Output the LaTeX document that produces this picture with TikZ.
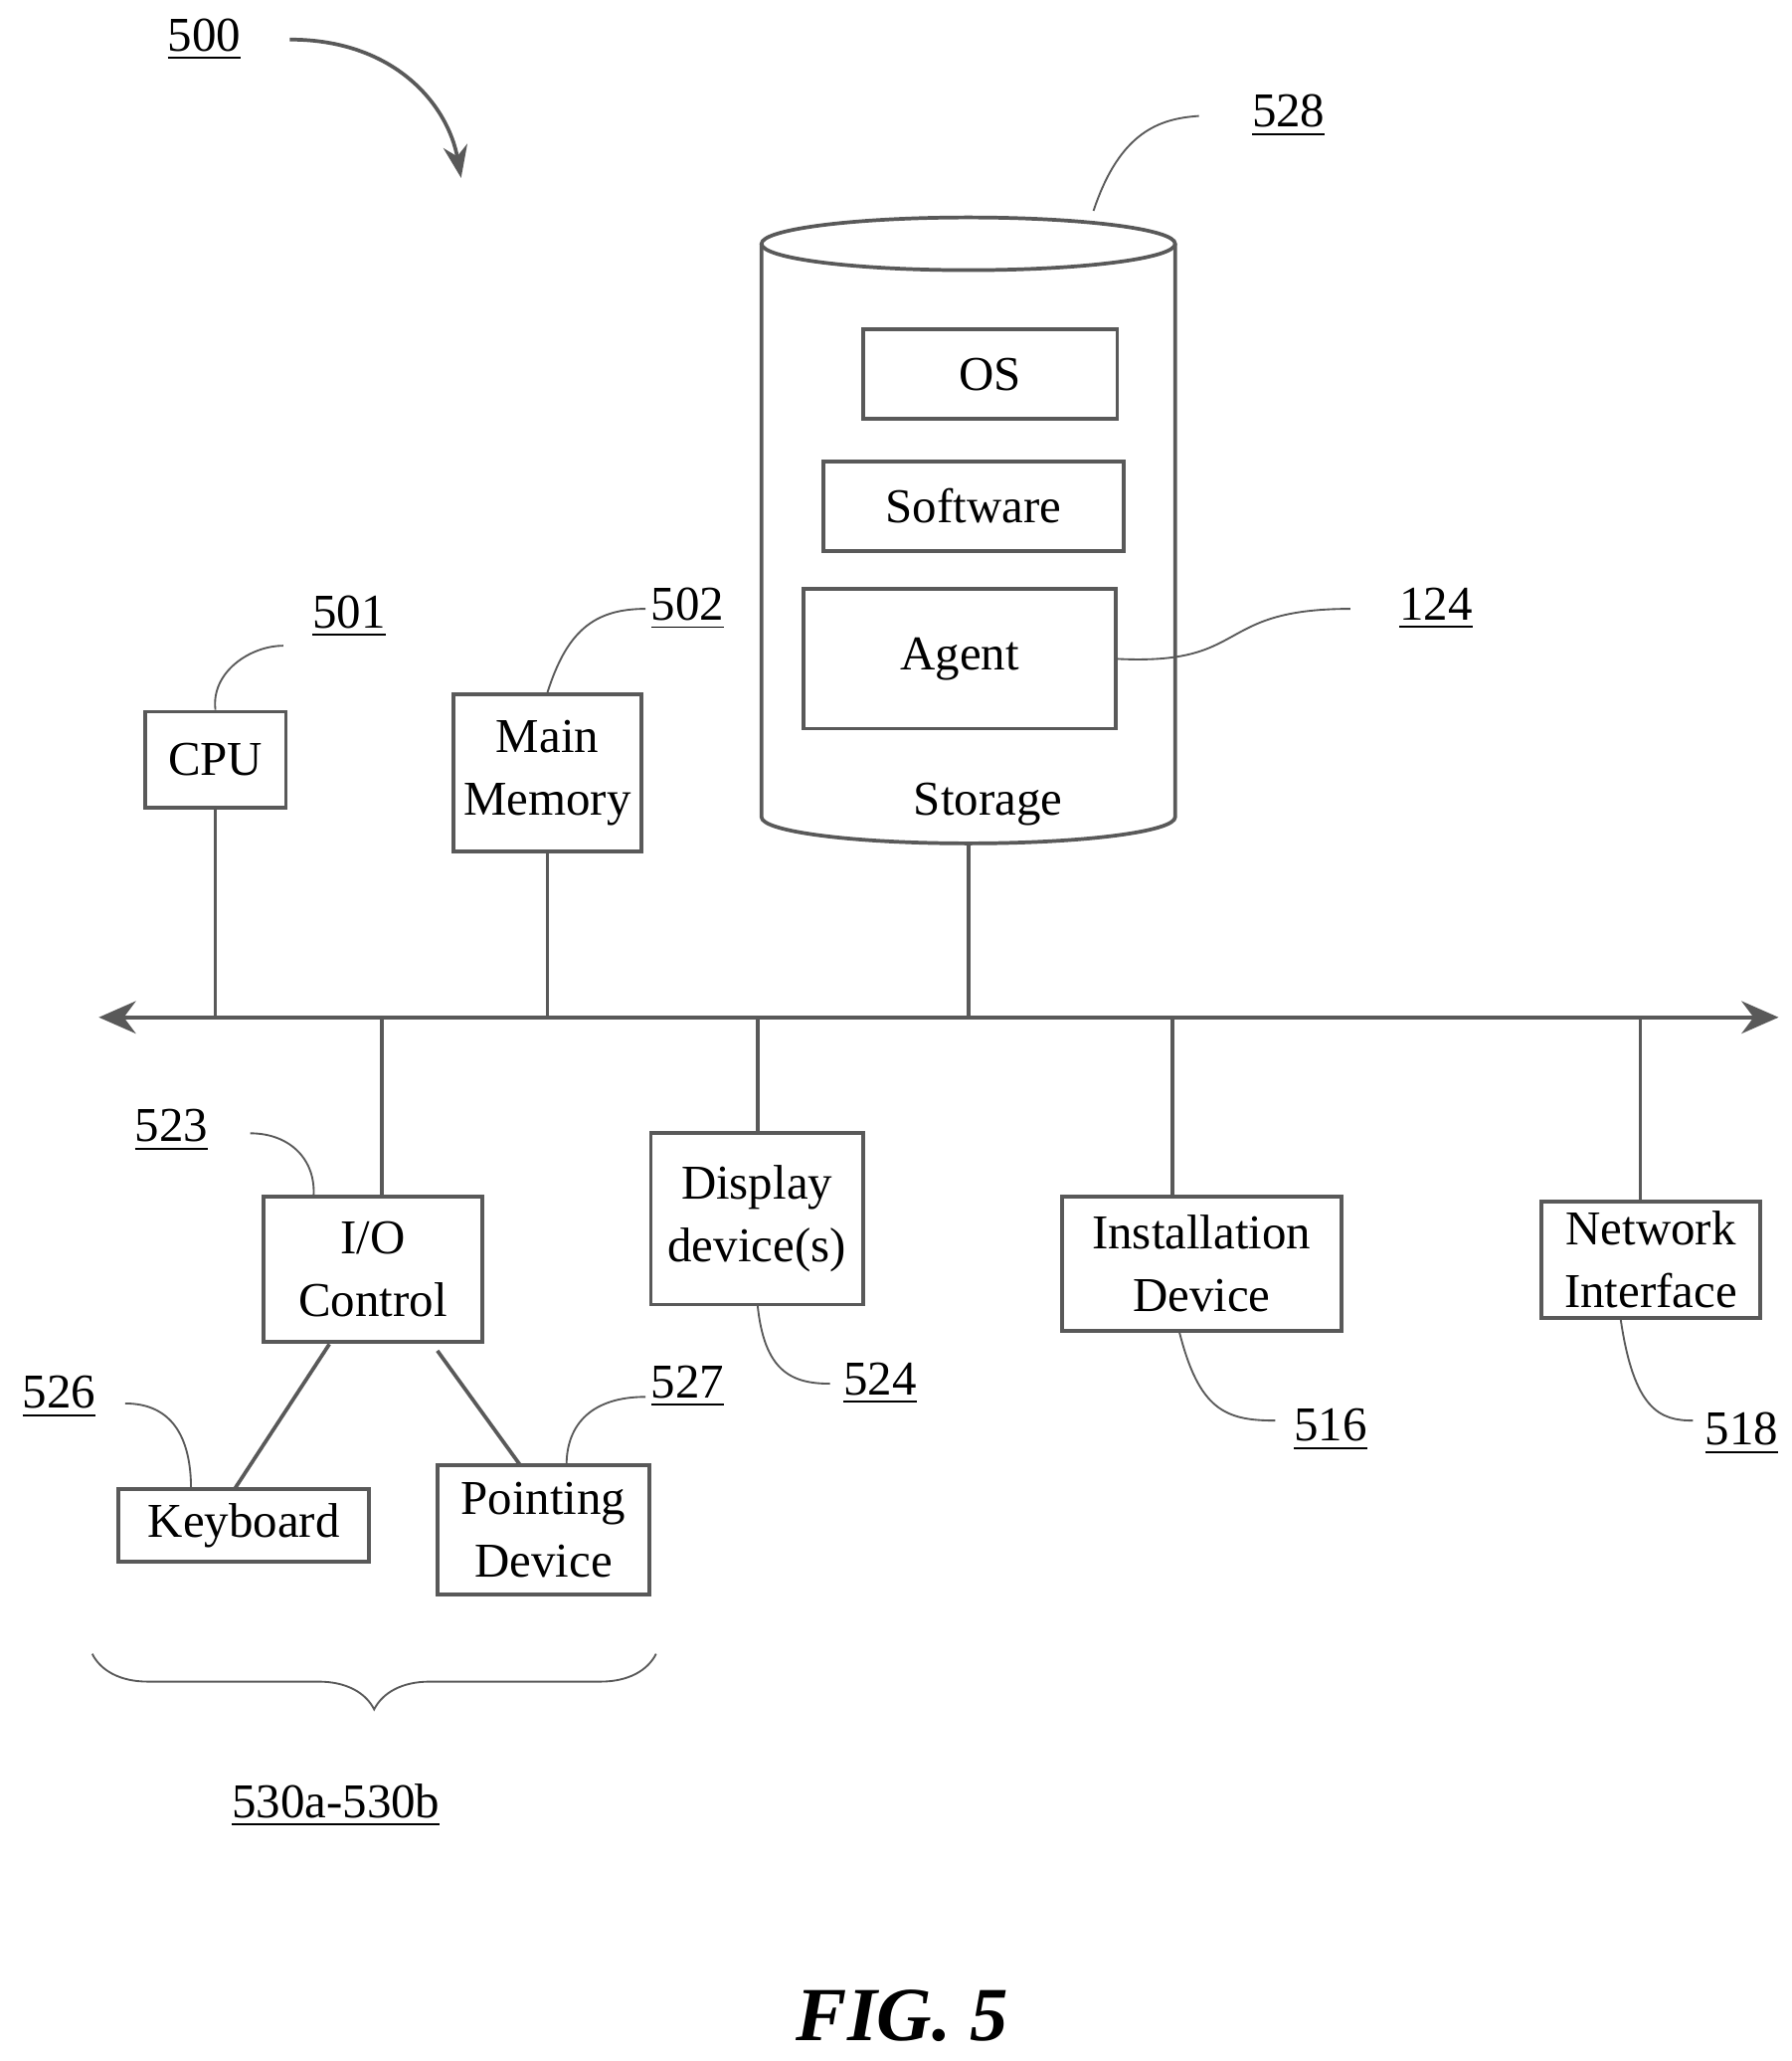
\documentclass[tikz,border=0pt]{standalone}
\usepackage{fontspec}
\setmainfont{Liberation Serif}
\usetikzlibrary{shapes.geometric,decorations.pathreplacing,arrows.meta}

\begin{document}
\begin{tikzpicture}[x=1cm,y=-1cm,
  blk/.style={draw,thick,gray!70!black,text=black,align=center,inner sep=0pt,
    font=\fontsize{10.5}{13.5}\selectfont},
  lbl/.style={font=\fontsize{10.5}{13}\selectfont,inner sep=1pt},
  lead/.style={thin,gray!70!black},
  bus/.style={thick,gray!70!black}]
\useasboundingbox (0,0) rectangle (13.6,15.64);

% storage cylinder
\draw[thick,gray!70!black] (5.78,1.85) -- (5.78,6.2) arc[start angle=180,end angle=0,x radius=1.57,y radius=0.2]
  -- (8.92,1.85);
\draw[thick,gray!70!black] (7.35,1.85) ellipse[x radius=1.57,y radius=0.2];
\node[lbl] (stor) at (7.5,6.1) {Storage};
\node[blk,minimum width=1.93cm,minimum height=0.68cm] (os) at (7.515,2.84) {OS};
\node[blk,minimum width=2.28cm,minimum height=0.68cm] (soft) at (7.39,3.84) {Software};
\node[blk,minimum width=2.37cm,minimum height=1.06cm] (agent) at (7.285,5.0) {Agent};

% upper blocks
\node[blk,minimum width=1.07cm,minimum height=0.73cm] (cpu) at (1.635,5.765) {CPU};
\node[blk,minimum width=1.43cm,minimum height=1.19cm] (mem) at (4.155,5.865) {Main\\Memory};

% bus
\coordinate (bl) at (0.75,7.72);
\coordinate (br) at (13.5,7.72);
\draw[bus,{Stealth[length=8pt,width=7pt]}-{Stealth[length=8pt,width=7pt]}] (bl) -- (br);
\draw[bus] (cpu.south) -- (cpu.south |- bl);
\draw[bus] (mem.south) -- (mem.south |- bl);
\draw[bus] (7.35,6.4) -- (7.35,7.72);

% lower blocks
\node[blk,minimum width=1.66cm,minimum height=1.1cm] (io) at (2.83,9.63) {I/O\\Control};
\node[blk,minimum width=1.61cm,minimum height=1.3cm] (disp) at (5.745,9.25) {Display\\device(s)};
\node[blk,minimum width=2.12cm,minimum height=1.02cm] (inst) at (9.12,9.59) {Installation\\Device};
\node[blk,minimum width=1.66cm,minimum height=0.88cm] (net) at (12.53,9.56) {Network\\Interface};
\node[blk,minimum width=1.9cm,minimum height=0.55cm] (kbd) at (1.85,11.575) {Keyboard};
\node[blk,minimum width=1.61cm,minimum height=0.98cm] (pnt) at (4.125,11.61) {Pointing\\Device};
\foreach \n/\x in {io/2.9,disp/5.75,inst/8.9,net/12.45}
  \draw[bus] (\x,7.72) -- (\x,0 |- \n.north);
\draw[bus] (2.5,10.2) -- (1.78,11.3);
\draw[bus] (3.32,10.25) -- (3.95,11.12);

% brace
\draw[thin,gray!70!black,decorate,decoration={brace,mirror,amplitude=12pt}] (0.7,12.55) -- (4.98,12.55);

% reference labels
\node[lbl] (l500) at (1.55,0.3) {\underline{500}};
\node[lbl] (l528) at (9.78,0.88) {\underline{528}};
\node[lbl] (l124) at (10.9,4.62) {\underline{124}};
\node[lbl] (l501) at (2.65,4.68) {\underline{501}};
\node[lbl] (l502) at (5.22,4.62) {\underline{502}};
\node[lbl] (l523) at (1.3,8.58) {\underline{523}};
\node[lbl] (l524) at (6.68,10.5) {\underline{524}};
\node[lbl] (l516) at (10.1,10.85) {\underline{516}};
\node[lbl] (l518) at (13.22,10.88) {\underline{518}};
\node[lbl] (l526) at (0.45,10.6) {\underline{526}};
\node[lbl] (l527) at (5.22,10.52) {\underline{527}};
\node[lbl] (l530) at (2.55,13.7) {\underline{530a-530b}};
\node[font=\fontsize{16.5}{20}\selectfont\bfseries\itshape] (fig) at (6.85,15.3) {FIG. 5};

% leaders
\draw[thick,gray!70!black,-{Stealth[length=7pt]}] (2.2,0.3) .. controls (3.0,0.3) and (3.4,0.8) .. (3.5,1.35);
\draw[lead] (8.3,1.6) .. controls (8.5,1.0) and (8.8,0.9) .. (9.1,0.88);
\draw[lead] (agent.east) .. controls (9.5,5.05) and (9.2,4.62) .. (10.25,4.62);
\draw[lead] (cpu.north) .. controls (1.6,5.1) and (1.9,4.9) .. (2.15,4.9);
\draw[lead] (mem.north) .. controls (4.3,4.8) and (4.5,4.62) .. (4.9,4.62);
\draw[lead] (1.9,8.6) .. controls (2.2,8.6) and (2.4,8.8) .. (2.38,9.08);
\draw[lead] (5.75,9.9) .. controls (5.8,10.4) and (6.0,10.5) .. (6.3,10.5);
\draw[lead] (8.95,10.1) .. controls (9.1,10.7) and (9.3,10.78) .. (9.68,10.78);
\draw[lead] (12.3,10.0) .. controls (12.4,10.7) and (12.6,10.78) .. (12.85,10.78);
\draw[lead] (0.95,10.65) .. controls (1.3,10.65) and (1.45,10.9) .. (1.45,11.3);
\draw[lead] (4.9,10.6) .. controls (4.5,10.6) and (4.3,10.8) .. (4.3,11.12);
\end{tikzpicture}
\end{document}
